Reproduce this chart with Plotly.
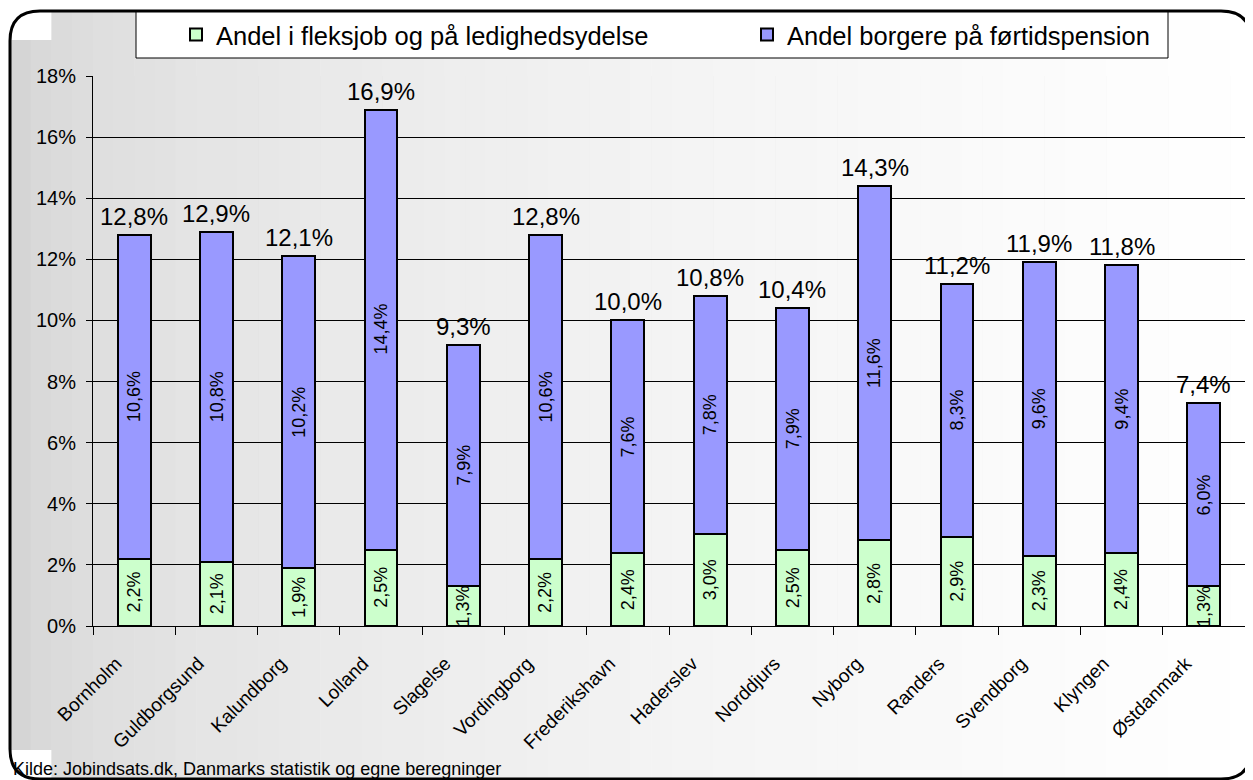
import plotly.graph_objects as go

categories = ["Bornholm", "Guldborgsund", "Kalundborg", "Lolland", "Slagelse", "Vordingborg",
              "Frederikshavn", "Haderslev", "Norddjurs", "Nyborg", "Randers", "Svendborg",
              "Klyngen", "Østdanmark"]
fleks = [2.2, 2.1, 1.9, 2.5, 1.3, 2.2, 2.4, 3.0, 2.5, 2.8, 2.9, 2.3, 2.4, 1.3]
fortid = [10.6, 10.8, 10.2, 14.4, 7.9, 10.6, 7.6, 7.8, 7.9, 11.6, 8.3, 9.6, 9.4, 6.0]
totals = [12.8, 12.9, 12.1, 16.9, 9.3, 12.8, 10.0, 10.8, 10.4, 14.3, 11.2, 11.9, 11.8, 7.4]
name_fleks = "Andel i fleksjob og på ledighedsydelse"
name_fortid = "Andel borgere på førtidspension"
source = "Kilde: Jobindsats.dk, Danmarks statistik og egne beregninger"
yticks = [0, 2, 4, 6, 8, 10, 12, 14, 16, 18]
yticktext = [f"{v}%" for v in yticks]

OFF = 8  # page body margin
W, H = 1253 - OFF, 780 - OFF
L, R, T, B = 85, 8, 68, 154
PW, PH = W - L - R, H - T - B
FONT = "Liberation Sans, Arial, sans-serif"


def X(px):  # page pixel -> paper
    return (px - OFF - L) / PW


def Y(py):
    return (H - B - (py - OFF)) / PH


def fmt(v):
    return f"{v:.1f}".replace(".", ",") + "%"


fig = go.Figure()
fig.add_trace(go.Bar(x=categories, y=fleks, name=name_fleks, legend="legend",
                     marker=dict(color="#CCFFCC", line=dict(color="black", width=2)), width=0.4))
fig.add_trace(go.Bar(x=categories, y=fortid, name=name_fortid, legend="legend2",
                     marker=dict(color="#9999FF", line=dict(color="black", width=2)), width=0.4))

ann = []
for c, g, p, t in zip(categories, fleks, fortid, totals):
    ann.append(dict(x=c, y=g / 2, text=fmt(g), textangle=-90, showarrow=False,
                    font=dict(size=18, color="black", family=FONT)))
    ann.append(dict(x=c, y=g + p / 2, text=fmt(p), textangle=-90, showarrow=False,
                    font=dict(size=18, color="black", family=FONT)))
    ann.append(dict(x=c, y=g + p, text=fmt(t), showarrow=False, yanchor="bottom", yshift=3,
                    font=dict(size=24, color="black", family=FONT)))
ann.append(dict(xref="paper", yref="paper", x=X(11), y=Y(769), xanchor="left", yanchor="middle",
                text=source, showarrow=False, font=dict(size=18, color="black", family=FONT)))

shapes = []
# background gradient strips (gray on left fading to white)
n = 60
for i in range(n):
    x0 = 10 + (1241 * i) / n
    x1 = 10 + (1241 * (i + 1)) / n
    t = (i + 0.5) / n
    g = int(round(208 + (255 - 208) * (t ** 0.45)))
    y0, y1 = (11, 779) if x0 >= 40 and x1 <= 1221 else (40, 750)
    shapes.append(dict(type="rect", xref="paper", yref="paper", x0=X(x0), x1=X(x1) + 0.0005,
                       y0=Y(y1), y1=Y(y0), fillcolor=f"rgb({g},{g},{g})",
                       line=dict(width=0), layer="below"))
# rounded frame
fx0, fx1, fy0, fy1, r = 10, 1251, 11, 779, 30
path = (f"M {X(fx0)},{Y(fy0 + r)} Q {X(fx0)},{Y(fy0)} {X(fx0 + r)},{Y(fy0)} "
        f"L {X(fx1 - r)},{Y(fy0)} Q {X(fx1)},{Y(fy0)} {X(fx1)},{Y(fy0 + r)} "
        f"L {X(fx1)},{Y(fy1 - r)} Q {X(fx1)},{Y(fy1)} {X(fx1 - r)},{Y(fy1)} "
        f"L {X(fx0 + r)},{Y(fy1)} Q {X(fx0)},{Y(fy1)} {X(fx0)},{Y(fy1 - r)} Z")
shapes.append(dict(type="path", xref="paper", yref="paper", path=path,
                   line=dict(color="black", width=3), layer="below"))
# legend box
shapes.append(dict(type="rect", xref="paper", yref="paper", x0=X(136), x1=X(1168),
                   y0=Y(58), y1=Y(12), fillcolor="white", line=dict(color="black", width=1),
                   layer="below"))

legend_common = dict(orientation="h", yanchor="middle", bgcolor="rgba(0,0,0,0)", borderwidth=0,
                     font=dict(size=25.5, family=FONT, color="black"))

fig.update_layout(
    width=W, height=H,
    margin=dict(l=L, r=R, t=T, b=B, pad=0, autoexpand=False),
    barmode="stack",
    paper_bgcolor="white",
    plot_bgcolor="#C0C0C0",
    font=dict(family=FONT, color="black"),
    showlegend=True,
    legend=dict(x=X(176), y=Y(35), xanchor="left", **legend_common),
    legend2=dict(x=X(747), y=Y(35), xanchor="left", **legend_common),
    xaxis=dict(showline=True, linecolor="black", linewidth=1, ticks="outside", ticklen=8,
               tickcolor="black", tickson="boundaries", tickangle=-45,
               tickfont=dict(size=19, family=FONT, color="black"), showgrid=False,
               ticklabelstandoff=18, ticklabelshift=-18),
    yaxis=dict(range=[0, 18], tickvals=yticks, ticktext=yticktext, showline=True,
               linecolor="black", linewidth=1, ticks="outside", ticklen=6, tickcolor="black",
               showgrid=True, gridcolor="black", gridwidth=1, zeroline=False,
               tickfont=dict(size=20, family=FONT, color="black"), ticklabelstandoff=6),
    annotations=ann,
    shapes=shapes,
)

fig.write_html("out.html")
